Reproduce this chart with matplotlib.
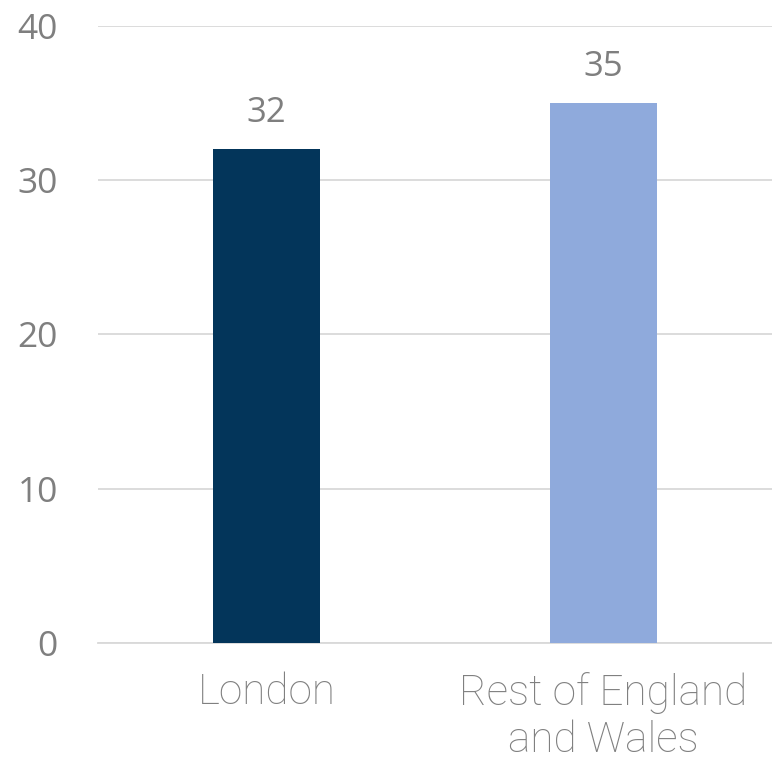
import matplotlib.pyplot as plt

# data
categories = ["London", "Rest of England\nand Wales"]
values = [32, 35]
colors = ["#03355A", "#8FAADC"]
yticks = [0, 10, 20, 30, 40]

fig = plt.figure(figsize=(7.72, 7.67), dpi=100)
ax = fig.add_axes([0.127, 0.162, 0.873, 0.804])

x = range(len(categories))
bars = ax.bar(x, values, width=0.317, color=colors, zorder=3)

# value labels above bars
for b, v in zip(bars, values):
    ax.annotate(str(v), (b.get_x() + b.get_width() / 2, v), xytext=(0, 14),
                textcoords="offset points", ha="center", va="bottom",
                fontsize=25, color="#7f7f7f", family="Open Sans")

ax.set_xlim(-0.5, 1.5)
ax.set_ylim(0, 40)
ax.set_yticks(yticks)
ax.set_yticklabels([str(t) for t in yticks], fontsize=25.5, color="#7f7f7f",
                   family="Open Sans")
ax.set_xticks(list(x))
ax.set_xticklabels(categories, fontsize=30.5, color="#808080",
                   family=["Roboto", "DejaVu Sans"], fontweight="light",
                   linespacing=1.2)
ax.tick_params(axis="both", length=0)
ax.tick_params(axis="x", pad=21)
ax.tick_params(axis="y", pad=29)

ax.grid(axis="y", color="#d9d9d9", linewidth=1.3, zorder=0)
for s in ["top", "right", "left"]:
    ax.spines[s].set_visible(False)
ax.spines["bottom"].set_color("#d9d9d9")
ax.spines["bottom"].set_linewidth(1.3)

fig.savefig("out.png", dpi=100)
